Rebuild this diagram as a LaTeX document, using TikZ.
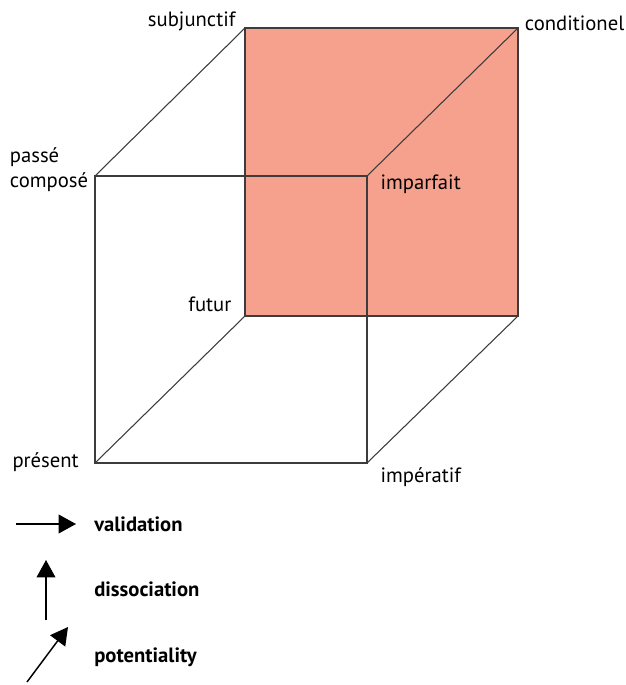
\documentclass[tikz,border=0pt]{standalone}
\usepackage{fontspec}
\setmainfont{PT Sans}
\usetikzlibrary{arrows.meta,positioning}
\definecolor{tensesalmon}{RGB}{245,161,141}
\definecolor{edgegray}{RGB}{60,60,60}

\tikzset{
  edge/.style={draw=edgegray,line width=0.8pt},
  tense/.style={font=\fontsize{15.5}{18.75}\selectfont,inner sep=0pt,align=right},
  legarrow/.style={line width=1.1pt,-{Triangle[length=13pt,width=14pt]}},
  legtext/.style={font=\fontsize{15.5}{18.75}\selectfont\bfseries,inner sep=0pt,anchor=west}
}

\begin{document}
\begin{tikzpicture}[x=0.75pt,y=-0.75pt]
  \useasboundingbox (0,0) rectangle (625,685);
  % Corners of the cube
  \coordinate (subj) at (245,28);
  \coordinate (cond) at (518,28);
  \coordinate (fut) at (245,316);
  \coordinate (backbr) at (518,316);
  \coordinate (pc) at (95,176);
  \coordinate (imparf) at (367,176);
  \coordinate (pres) at (95,463);
  \coordinate (imper) at (367,463);
  % Back face
  \fill[tensesalmon] (subj) rectangle (backbr);
  \draw[edge] (subj) -- (cond) -- (backbr) -- (fut) -- cycle;
  % Front face
  \draw[edge] (pc) -- (imparf) -- (imper) -- (pres) -- cycle;
  % Depth edges
  \draw[edge] (pres) -- (fut);
  \draw[edge] (pc) -- (subj);
  \draw[edge] (imparf) -- (cond);
  \draw[edge] (imper) -- (backbr);
  % Tense labels
  \node[tense,anchor=south east] (lsubj) at ([xshift=-7,yshift=-2]subj) {subjunctif};
  \node[tense,anchor=south west] (lcond) at ([xshift=5,yshift=-2]cond) {conditionel};
  \node[tense,anchor=east,align=left] (lpc) at ([xshift=-5,yshift=5]pc) {passé\\composé};
  \node[tense,anchor=north west] (limparf) at ([xshift=10,yshift=1]imparf) {imparfait};
  \node[tense,anchor=south east] (lfut) at ([xshift=-10,yshift=3]fut) {futur};
  \node[tense,anchor=east] (lpres) at ([xshift=-12,yshift=1]pres) {présent};
  \node[tense,anchor=north west] (limper) at ([xshift=10,yshift=-3]imper) {impératif};
  % Legend
  \coordinate (valA) at (16,524);
  \coordinate (valB) at (76,524);
  \coordinate (disA) at (46,620);
  \coordinate (disB) at (46,560);
  \coordinate (potA) at (27,682);
  \coordinate (potB) at (68,627);
  \draw[legarrow] (valA) -- (valB);
  \draw[legarrow] (disA) -- (disB);
  \draw[legarrow] (potA) -- (potB);
  \node[legtext] (lval) at (94,524) {validation};
  \node[legtext] (ldis) at (94,589) {dissociation};
  \node[legtext] (lpot) at (94,657) {potentiality};
\end{tikzpicture}
\end{document}
